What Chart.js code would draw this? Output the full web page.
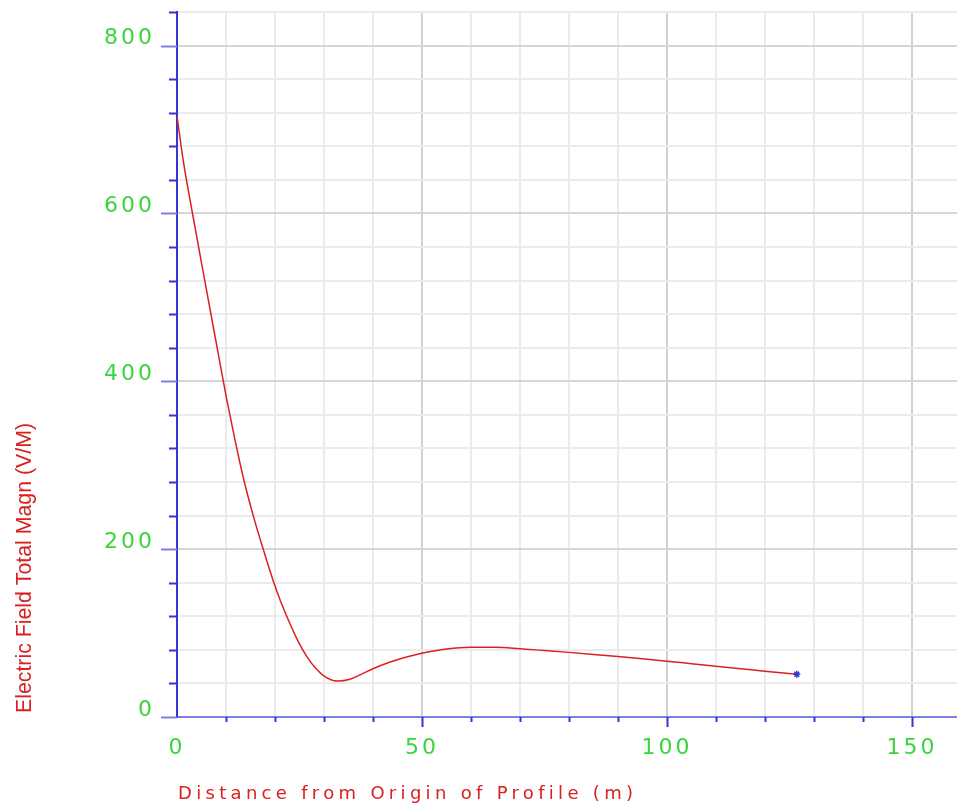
<!DOCTYPE html>
<html>
<head>
<meta charset="utf-8">
<script src="https://cdn.jsdelivr.net/npm/chart.js@4/dist/chart.umd.min.js"></script>
<style>
  html, body { margin: 0; padding: 0; background: #ffffff; }
  canvas { display: block; }
</style>
</head>
<body>
<canvas id="chart" width="957" height="811"></canvas>
<script>
// Electric field total magnitude along the profile
const distance = [0, 1.3, 3.1, 5.6, 8.1, 10.1, 11.8, 13.5, 15.6, 17.6, 19.6, 21.2, 22.7, 24.4, 26.5, 28.5,
  30.5, 32.9, 35.3, 37.5, 40, 43.5, 46.5, 50, 55, 60, 65, 70, 75, 80, 85, 90, 95, 100, 105, 110, 115, 120, 126.5];
const fieldMagn = [716, 662, 602, 522, 443, 380, 331, 286, 239, 200, 163, 137, 116, 94, 72, 57,
  47, 42.8, 45, 50.5, 57.5, 65.5, 71, 76, 81, 83, 83, 81.3, 79.2, 77, 74.6, 72, 69.3, 66.5, 63.5, 60.5, 57.5, 54.5, 51];

const xTitle = 'Distance from Origin of Profile (m)';
const yTitle = 'Electric Field Total Magn (V/M)';
const xLabelStep = 50;
const yLabelStep = 200;

const RED = '#da2020';
const GREEN = '#3cd43c';
const BLUE = '#3535d2';
const LIGHT_BLUE = '#7f7fe4';

const points = distance.map((d, i) => ({ x: d, y: fieldMagn[i] }));

// small tick marks, axis titles and tick label spacing
const axisDecor = {
  id: 'axisDecor',
  beforeDraw(chart) {
    chart.ctx.letterSpacing = '3px';
  },
  afterDraw(chart) {
    const ctx = chart.ctx;
    ctx.letterSpacing = '0px';
    const xs = chart.scales.x, ys = chart.scales.y;
    const left = chart.chartArea.left, bottom = chart.chartArea.bottom;
    ctx.save();
    ctx.lineWidth = 2;
    ys.ticks.forEach(t => {
      const py = Math.round(ys.getPixelForValue(t.value)) + 0.5;
      const major = t.value % yLabelStep === 0;
      ctx.strokeStyle = major ? LIGHT_BLUE : BLUE;
      ctx.beginPath();
      ctx.moveTo(left - (major ? 16 : 8), py);
      ctx.lineTo(left, py);
      ctx.stroke();
    });
    xs.ticks.forEach(t => {
      if (t.value === 0) return;
      const px = Math.round(xs.getPixelForValue(t.value)) + 0.5;
      const major = t.value % xLabelStep === 0;
      ctx.strokeStyle = BLUE;
      ctx.beginPath();
      ctx.moveTo(px, bottom);
      ctx.lineTo(px, bottom + (major ? 10 : 5));
      ctx.stroke();
    });

    // x axis title, widely spaced
    ctx.fillStyle = RED;
    ctx.font = '18px "DejaVu Sans", sans-serif';
    ctx.textAlign = 'left';
    ctx.textBaseline = 'alphabetic';
    const plainW = ctx.measureText(xTitle).width;
    const sp = (455 - plainW) / (xTitle.length - 1);
    ctx.letterSpacing = sp.toFixed(2) + 'px';
    ctx.fillText(xTitle, 178, 799);
    ctx.letterSpacing = '0px';

    // y axis title, rotated and condensed
    ctx.font = '22px "Liberation Sans", Arial, sans-serif';
    const w = ctx.measureText(yTitle).width;
    ctx.translate(31, 713);
    ctx.rotate(-Math.PI / 2);
    ctx.scale(290 / w, 1);
    ctx.fillText(yTitle, 0, 0);
    ctx.restore();
  }
};

new Chart(document.getElementById('chart'), {
  type: 'line',
  data: {
    datasets: [{
      data: points,
      borderColor: RED,
      borderWidth: 1.5,
      fill: false,
      cubicInterpolationMode: 'monotone',
      pointRadius: ctx => ctx.dataIndex === points.length - 1 ? 3.5 : 0,
      pointStyle: 'star',
      pointBorderColor: BLUE,
      pointBackgroundColor: BLUE,
      pointBorderWidth: 1.5
    }]
  },
  options: {
    responsive: false,
    animation: false,
    events: [],
    layout: { autoPadding: false, padding: { top: 12, left: 0, right: 0, bottom: 0 } },
    plugins: { legend: { display: false }, tooltip: { enabled: false }, title: { display: false } },
    scales: {
      x: {
        type: 'linear',
        min: 0,
        max: 159.2,
        afterFit: s => { s.height = 94; s.paddingLeft = 0; s.paddingRight = 0; },
        border: { display: true, color: LIGHT_BLUE, width: 2 },
        grid: {
          drawTicks: false,
          lineWidth: 2,
          color: c => (c.tick && c.tick.value % xLabelStep === 0) ? '#d0d0d0' : '#ebebeb'
        },
        ticks: {
          stepSize: 10,
          includeBounds: false,
          maxRotation: 0,
          autoSkip: false,
          padding: 18,
          color: GREEN,
          font: { family: '"DejaVu Sans", sans-serif', size: 22 },
          callback: v => v % xLabelStep === 0 ? String(v) : ''
        }
      },
      y: {
        type: 'linear',
        min: 0,
        max: 840,
        afterFit: s => { s.width = 177; s.paddingTop = 0; s.paddingBottom = 0; },
        border: { display: true, color: BLUE, width: 2 },
        grid: {
          drawTicks: false,
          lineWidth: 2,
          color: c => (c.tick && c.tick.value % yLabelStep === 0) ? '#d6d6d6' : '#ebebeb'
        },
        ticks: {
          stepSize: 40,
          autoSkip: false,
          padding: 22,
          labelOffset: -7,
          color: GREEN,
          font: { family: '"DejaVu Sans", sans-serif', size: 22 },
          callback: v => v % yLabelStep === 0 ? String(v) : ''
        }
      }
    }
  },
  plugins: [axisDecor]
});
</script>
</body>
</html>
